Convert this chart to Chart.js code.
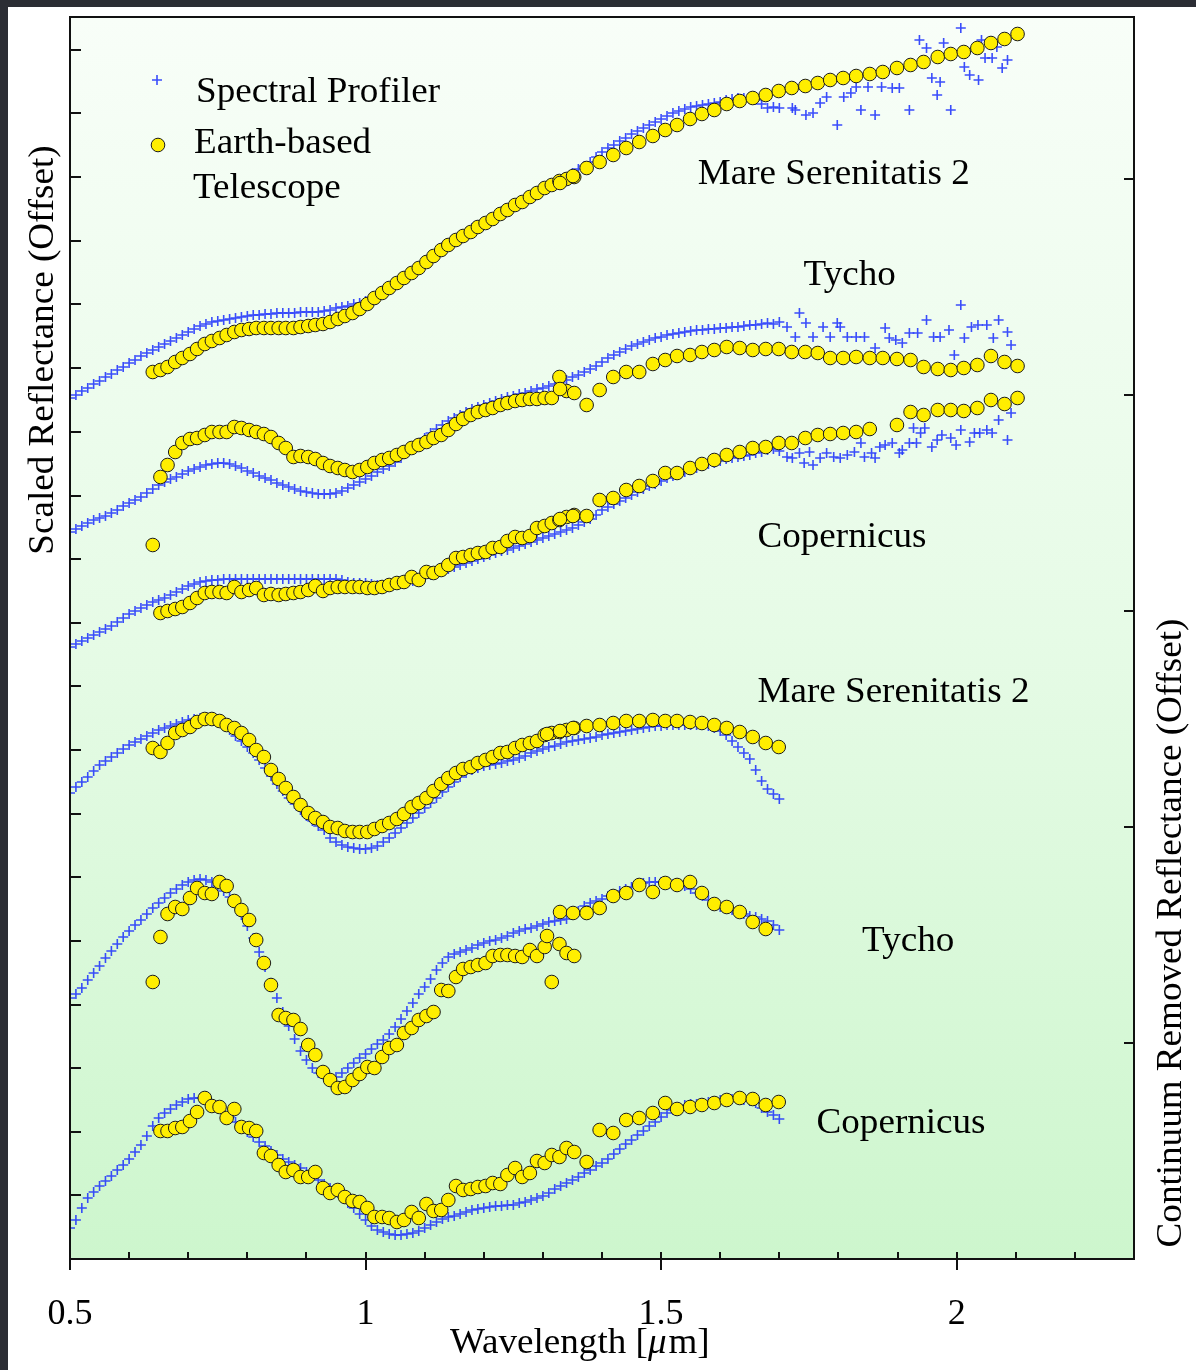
<!DOCTYPE html>
<html>
<head>
<meta charset="utf-8">
<title>Spectral Profiler vs Earth-based Telescope</title>
<script src="https://cdn.jsdelivr.net/npm/chart.js@4.4.1/dist/chart.umd.min.js"></script>
<style>
  html, body { margin: 0; padding: 0; width: 1196px; height: 1370px; overflow: hidden; background: #2b2d34; }
  #wrap { position: absolute; left: 8px; top: 7px; width: 1188px; height: 1363px; background: #ffffff; }
  canvas { display: block; }
</style>
</head>
<body>
<div id="wrap"><canvas id="spectra" width="1188" height="1363"></canvas></div>
<script>
// ---------------------------------------------------------------
// Wavelength sampling (micrometres)
// ---------------------------------------------------------------
const spBands = [
  0.50,0.51,0.52,0.53,0.54,0.55,0.56,0.57,0.58,0.59,
  0.60,0.61,0.62,0.63,0.64,0.65,0.66,0.67,0.68,0.69,
  0.70,0.71,0.72,0.73,0.74,0.75,0.76,0.77,0.78,0.79,
  0.80,0.81,0.82,0.83,0.84,0.85,0.86,0.87,0.88,0.89,
  0.90,0.91,0.92,0.93,0.94,0.95,0.96,0.97,0.98,0.99,
  1.00,1.01,1.02,1.03,1.04,1.05,1.06,1.07,1.08,1.09,
  1.10,1.11,1.12,1.13,1.14,1.15,1.16,1.17,1.18,1.19,
  1.20,1.21,1.22,1.23,1.24,1.25,1.26,1.27,1.28,1.29,
  1.30,1.31,1.32,1.33,1.34,1.35,1.36,1.37,1.38,1.39,
  1.40,1.41,1.42,1.43,1.44,1.45,1.46,1.47,1.48,1.49,
  1.50,1.51,1.52,1.53,1.54,1.55,1.56,1.57,1.58,1.59,
  1.60,1.61,1.62,1.63,1.64,1.65,1.66,1.67,1.68,1.69,
  1.70
];

const telVisBands = [
  0.640,0.653,0.665,0.678,0.690,0.703,0.715,0.728,0.740,0.753,
  0.765,0.778,0.790,0.803,0.815,0.828,0.840,0.853,0.865,0.878,
  0.890,0.903,0.915,0.928,0.940,0.953,0.965,0.978,0.990,1.003,
  1.015,1.028,1.040,1.053,1.065,1.078,1.090,1.103,1.115,1.128,
  1.140,1.153,1.165,1.178,1.190,1.203,1.215,1.228,1.240,1.253,
  1.265,1.278,1.290,1.303,1.315,1.328,1.340,1.353
];

const telNirBands = [
  1.307,1.329,1.351,1.374,1.396,1.419,1.441,1.463,1.486,1.507,
  1.527,1.549,1.569,1.590,1.611,1.633,1.655,1.677,1.699,1.721,
  1.744,1.765,1.786,1.808,1.830,1.853,1.875,1.899,1.922,1.944,
  1.968,1.990,2.012,2.035,2.058,2.081,2.103
];

// ---------------------------------------------------------------
// Spectral Profiler, scaled reflectance (offset)
// ---------------------------------------------------------------
const spMareScaled = [
  0.861,0.864,0.868,0.871,0.875,0.878,0.882,0.885,0.889,0.892,
  0.896,0.899,0.903,0.906,0.909,0.912,0.915,0.918,0.921,0.924,
  0.927,0.930,0.933,0.935,0.937,0.938,0.939,0.940,0.941,0.942,
  0.943,0.944,0.944,0.945,0.945,0.946,0.946,0.946,0.946,0.947,
  0.947,0.947,0.947,0.948,0.949,0.951,0.952,0.953,0.955,0.956,
  0.958,0.961,0.964,0.968,0.972,0.976,0.980,0.984,0.988,0.993,
  0.997,1.002,1.007,1.012,1.016,1.020,1.024,1.027,1.031,1.034,
  1.037,1.041,1.044,1.048,1.051,1.055,1.058,1.061,1.064,1.067,
  1.070,1.073,1.076,1.079,1.082,1.086,1.090,1.093,1.097,1.102,
  1.107,1.111,1.114,1.118,1.121,1.125,1.128,1.131,1.134,1.137,
  1.140,1.143,1.146,1.148,1.150,1.152,1.153,1.154,1.155,1.156,
  1.157,1.159,1.160,1.161,1.161,1.160,1.159,1.155,1.151,1.152,
  1.151
];
const spTychoScaled = [
  0.727,0.730,0.733,0.736,0.739,0.741,0.743,0.746,0.749,0.753,
  0.756,0.759,0.762,0.766,0.770,0.774,0.777,0.780,0.782,0.785,
  0.788,0.790,0.792,0.794,0.795,0.796,0.796,0.795,0.793,0.791,
  0.788,0.786,0.783,0.781,0.779,0.776,0.774,0.772,0.770,0.768,
  0.767,0.766,0.765,0.765,0.765,0.766,0.768,0.771,0.774,0.777,
  0.780,0.783,0.787,0.790,0.793,0.797,0.801,0.806,0.811,0.816,
  0.821,0.826,0.830,0.834,0.838,0.841,0.844,0.847,0.850,0.852,
  0.854,0.856,0.858,0.860,0.862,0.863,0.865,0.866,0.868,0.870,
  0.871,0.873,0.875,0.877,0.879,0.882,0.884,0.887,0.890,0.893,
  0.897,0.901,0.904,0.907,0.910,0.913,0.915,0.917,0.919,0.921,
  0.922,0.924,0.925,0.926,0.927,0.928,0.929,0.929,0.930,0.930,
  0.931,0.931,0.932,0.932,0.933,0.934,0.934,0.935,0.936,0.935,
  0.937
];
const spCopernicusScaled = [
  0.612,0.615,0.618,0.621,0.624,0.627,0.630,0.633,0.637,0.641,
  0.645,0.648,0.651,0.654,0.657,0.659,0.661,0.664,0.667,0.670,
  0.673,0.675,0.677,0.678,0.679,0.679,0.680,0.680,0.680,0.680,
  0.680,0.680,0.680,0.680,0.680,0.680,0.680,0.680,0.680,0.680,
  0.680,0.680,0.680,0.680,0.680,0.680,0.679,0.677,0.676,0.676,
  0.676,0.675,0.674,0.674,0.674,0.675,0.676,0.677,0.678,0.680,
  0.682,0.684,0.686,0.688,0.690,0.692,0.694,0.696,0.698,0.700,
  0.702,0.704,0.706,0.708,0.709,0.711,0.713,0.715,0.717,0.719,
  0.721,0.723,0.725,0.727,0.729,0.731,0.734,0.737,0.740,0.744,
  0.749,0.752,0.755,0.758,0.761,0.764,0.767,0.770,0.773,0.775,
  0.778,0.781,0.783,0.785,0.787,0.789,0.791,0.793,0.795,0.796,
  0.798,0.800,0.801,0.802,0.803,0.804,0.806,0.807,0.809,0.810,
  0.808
];

// Noisy long-wavelength Spectral Profiler bands: [wavelength, value]
const spTailMareScaled = [
  [1.722,1.151],[1.727,1.149],[1.745,1.144],[1.757,1.146],[1.769,1.156],[1.780,1.162],
  [1.798,1.134],[1.809,1.162],[1.821,1.166],[1.830,1.172],[1.838,1.149],[1.850,1.172],
  [1.862,1.144],[1.873,1.172],[1.891,1.171],[1.903,1.171],[1.920,1.149],[1.937,1.219],
  [1.949,1.211],[1.958,1.181],[1.967,1.164],[1.972,1.177],[1.978,1.216],[1.990,1.149],
  [2.007,1.231],[2.013,1.192],[2.022,1.184],[2.037,1.179],[2.042,1.219],[2.048,1.201],
  [2.060,1.201],[2.068,1.212],[2.077,1.191],[2.086,1.199]
];
const spTailTychoScaled = [
  [1.713,0.932],[1.727,0.922],[1.734,0.946],[1.745,0.936],[1.757,0.922],[1.774,0.932],
  [1.786,0.922],[1.798,0.936],[1.803,0.932],[1.815,0.922],[1.830,0.922],[1.844,0.922],
  [1.862,0.911],[1.879,0.931],[1.886,0.921],[1.897,0.919],[1.908,0.916],[1.920,0.926],
  [1.934,0.926],[1.949,0.939],[1.961,0.922],[1.972,0.922],[1.987,0.929],[1.996,0.904],
  [2.007,0.954],[2.013,0.921],[2.025,0.932],[2.036,0.934],[2.051,0.934],[2.062,0.921],
  [2.071,0.939],[2.086,0.927],[2.092,0.914]
];
const spTailCopernicusScaled = [
  [1.713,0.802],[1.722,0.801],[1.734,0.806],[1.742,0.796],[1.751,0.807],[1.757,0.794],
  [1.769,0.801],[1.780,0.806],[1.792,0.802],[1.803,0.801],[1.815,0.804],[1.827,0.807],
  [1.838,0.816],[1.844,0.802],[1.856,0.806],[1.862,0.801],[1.870,0.812],[1.879,0.814],
  [1.891,0.816],[1.903,0.806],[1.908,0.809],[1.920,0.816],[1.927,0.831],[1.932,0.816],
  [1.939,0.826],[1.946,0.831],[1.958,0.812],[1.967,0.819],[1.975,0.824],[1.990,0.821],
  [1.999,0.814],[2.007,0.829],[2.022,0.817],[2.030,0.826],[2.039,0.826],[2.051,0.829],
  [2.060,0.826],[2.071,0.839],[2.086,0.819],[2.092,0.846]
];

// ---------------------------------------------------------------
// Spectral Profiler, continuum removed reflectance (offset)
// ---------------------------------------------------------------
const spMareCR = [
  0.466,0.472,0.477,0.482,0.488,0.494,0.498,0.502,0.506,0.510,
  0.514,0.517,0.520,0.523,0.526,0.529,0.531,0.533,0.535,0.537,
  0.539,0.540,0.541,0.541,0.540,0.538,0.534,0.529,0.523,0.518,
  0.512,0.506,0.499,0.491,0.483,0.475,0.468,0.461,0.455,0.449,
  0.443,0.438,0.433,0.429,0.421,0.417,0.414,0.412,0.411,0.410,
  0.410,0.411,0.413,0.417,0.421,0.426,0.431,0.436,0.441,0.446,
  0.451,0.456,0.461,0.467,0.472,0.477,0.482,0.486,0.489,0.491,
  0.493,0.494,0.495,0.496,0.498,0.499,0.501,0.503,0.506,0.508,
  0.510,0.512,0.513,0.515,0.517,0.518,0.519,0.520,0.521,0.522,
  0.524,0.525,0.526,0.527,0.528,0.529,0.530,0.531,0.532,0.533,
  0.533,0.534,0.534,0.534,0.534,0.534,0.534,0.534,0.533,0.531,
  0.528,0.524,0.518,0.512,0.506,0.500,0.489,0.478,0.470,0.465,
  0.460
];
const spTychoCR = [
  0.261,0.265,0.271,0.279,0.286,0.293,0.301,0.308,0.315,0.322,
  0.328,0.334,0.339,0.345,0.351,0.356,0.361,0.366,0.370,0.374,
  0.377,0.379,0.380,0.379,0.377,0.373,0.368,0.362,0.354,0.344,
  0.333,0.321,0.307,0.292,0.276,0.261,0.247,0.233,0.220,0.208,
  0.199,0.191,0.186,0.182,0.181,0.182,0.186,0.191,0.196,0.201,
  0.205,0.210,0.215,0.219,0.225,0.232,0.240,0.248,0.256,0.265,
  0.272,0.280,0.289,0.296,0.302,0.305,0.307,0.309,0.311,0.314,
  0.316,0.318,0.319,0.321,0.323,0.326,0.328,0.330,0.331,0.333,
  0.335,0.337,0.338,0.339,0.340,0.344,0.348,0.353,0.356,0.358,
  0.360,0.363,0.365,0.368,0.370,0.372,0.374,0.376,0.377,0.377,
  0.377,0.376,0.375,0.374,0.373,0.370,0.366,0.363,0.359,0.355,
  0.352,0.350,0.349,0.347,0.345,0.343,0.342,0.340,0.338,0.334,
  0.329
];
const spCopernicusCR = [
  0.031,0.039,0.051,0.061,0.067,0.073,0.078,0.083,0.089,0.094,
  0.100,0.107,0.114,0.123,0.133,0.141,0.146,0.150,0.154,0.157,
  0.160,0.161,0.161,0.159,0.155,0.150,0.146,0.142,0.137,0.131,
  0.127,0.122,0.117,0.113,0.108,0.104,0.100,0.097,0.094,0.091,
  0.087,0.083,0.079,0.075,0.071,0.067,0.062,0.056,0.051,0.045,
  0.039,0.033,0.029,0.027,0.025,0.024,0.024,0.025,0.026,0.028,
  0.031,0.034,0.037,0.040,0.042,0.043,0.045,0.047,0.049,0.050,
  0.051,0.052,0.053,0.053,0.054,0.054,0.056,0.057,0.059,0.061,
  0.063,0.066,0.070,0.073,0.076,0.079,0.082,0.086,0.089,0.093,
  0.096,0.100,0.105,0.110,0.115,0.119,0.124,0.128,0.133,0.137,
  0.142,0.146,0.149,0.152,0.154,0.155,0.155,0.156,0.157,0.158,
  0.159,0.159,0.160,0.160,0.159,0.158,0.156,0.151,0.147,0.144,
  0.140
];

// ---------------------------------------------------------------
// Earth-based telescope, visible (telVisBands) and near-IR (telNirBands)
// ---------------------------------------------------------------
const telMareScaledVis = [
  0.887,0.889,0.892,0.897,0.901,0.905,0.910,0.915,0.918,0.921,
  0.924,0.927,0.929,0.930,0.931,0.931,0.931,0.931,0.931,0.931,
  0.932,0.933,0.934,0.935,0.937,0.940,0.943,0.946,0.950,0.955,
  0.961,0.966,0.971,0.976,0.981,0.986,0.991,0.997,1.003,1.009,
  1.014,1.019,1.023,1.027,1.032,1.036,1.040,1.045,1.049,1.054,
  1.057,1.062,1.066,1.071,1.074,1.078,1.080,1.082
];
const telMareScaledNir = [
  null,1.076,1.083,1.091,1.097,1.104,1.111,1.117,1.123,1.129,
  1.134,1.140,1.145,1.149,1.155,1.158,1.161,1.164,1.168,1.171,
  1.173,1.176,1.179,1.181,1.183,1.185,1.187,1.191,1.194,1.197,
  1.202,1.205,1.207,1.211,1.216,1.220,1.225
];
const telTychoScaledVis = [
  0.714,0.782,0.794,0.807,0.816,0.820,0.821,0.824,0.827,0.827,
  0.827,0.832,0.831,0.829,0.827,0.825,0.822,0.816,0.811,0.802,
  0.803,0.802,0.800,0.796,0.793,0.791,0.789,0.787,0.789,0.792,
  0.796,0.799,0.801,0.804,0.807,0.811,0.814,0.817,0.821,0.824,
  0.829,0.835,0.840,0.844,0.847,0.849,0.851,0.854,0.856,0.858,
  0.859,0.860,0.860,0.861,0.861,0.882,0.868,0.866
];
const telTychoScaledNir = [
  null,0.870,null,0.854,0.869,0.882,0.887,0.887,0.895,0.899,
  0.903,0.904,0.907,0.909,0.912,0.911,0.909,0.910,0.910,0.907,
  0.907,0.906,0.901,0.901,0.902,0.901,0.901,0.900,0.899,0.892,
  0.890,0.889,0.891,0.894,0.903,0.897,0.893
];
const telCopernicusScaledVis = [
  null,0.646,0.648,0.650,0.652,0.656,0.661,0.666,0.667,0.667,
  0.666,0.672,0.667,0.669,0.671,0.664,0.665,0.664,0.665,0.666,
  0.667,0.669,0.673,0.668,0.671,0.672,0.672,0.672,0.672,0.671,
  0.671,0.672,0.674,0.676,0.677,0.682,0.679,0.687,0.686,0.689,
  0.694,0.701,0.702,0.704,0.706,0.707,0.711,0.712,0.718,0.722,
  0.721,0.723,0.731,0.733,0.736,0.739,0.742,0.744
];
const telCopernicusScaledNir = [
  null,0.740,0.743,0.743,0.759,0.761,0.769,0.773,0.778,0.786,
  0.786,0.791,0.795,0.799,0.804,0.807,0.811,0.812,0.816,0.816,
  0.821,0.824,0.825,0.826,0.827,0.830,null,0.834,0.847,0.844,
  0.849,0.849,0.848,0.851,0.859,0.855,0.861
];
const telMareCRVis = [
  0.511,0.507,0.516,0.526,0.529,0.532,0.537,0.540,0.540,0.538,
  0.534,0.531,0.526,0.519,0.509,0.502,0.489,0.480,0.471,0.462,
  0.454,0.446,0.441,0.437,0.432,0.431,0.428,0.427,0.427,0.427,
  0.430,0.433,0.436,0.440,0.445,0.452,0.456,0.461,0.468,0.475,
  0.481,0.486,0.490,0.492,0.496,0.499,0.502,0.506,0.507,0.511,
  0.514,0.516,0.518,0.524,0.526,0.527,0.529,0.531
];
const telMareCRNir = [
  0.525,0.528,0.531,0.533,0.534,0.536,0.538,0.538,0.539,0.538,
  0.538,0.537,0.536,0.534,0.531,0.527,0.522,0.516,0.512,null,
  null,null,null,null,null,null,null,null,null,null,
  null,null,null,null,null,null,null
];
const telTychoCRVis = [
  0.277,0.322,0.345,0.352,0.350,0.361,0.371,0.366,0.365,0.377,
  0.373,0.358,0.349,0.339,0.319,0.296,0.274,0.244,0.241,0.239,
  0.230,0.214,0.204,0.187,0.179,0.171,0.172,0.179,0.185,0.192,
  0.191,0.202,0.211,0.214,0.226,0.231,0.239,0.243,0.247,0.269,
  0.268,0.282,0.290,0.292,0.294,0.296,0.303,0.304,0.304,0.303,
  0.302,0.309,0.303,0.312,0.277,0.315,0.306,0.303
];
const telTychoCRNir = [
  0.323,0.347,0.346,0.346,0.351,0.363,0.366,0.374,0.367,0.376,
  0.374,0.377,0.366,0.355,0.352,0.347,0.337,0.330,null,null,
  null,null,null,null,null,null,null,null,null,null,
  null,null,null,null,null,null,null
];
const telCopernicusCRVis = [
  null,0.128,0.128,0.131,0.132,0.138,0.147,0.161,0.153,0.152,
  0.141,0.150,0.132,0.131,0.128,0.106,0.103,0.094,0.087,0.089,
  0.082,0.082,0.087,0.071,0.066,0.069,0.062,0.058,0.057,0.051,
  0.042,0.042,0.041,0.037,0.039,0.047,0.041,0.055,0.048,0.049,
  0.059,0.073,0.069,0.070,0.072,0.073,0.076,0.075,0.084,0.091,
  0.082,0.086,0.098,0.096,0.104,0.102,0.111,0.107
];
const telCopernicusCRNir = [
  null,null,null,0.097,0.129,0.126,0.139,0.141,0.146,0.156,
  0.150,0.152,0.154,0.156,0.159,0.161,0.160,0.154,0.157,null,
  null,null,null,null,null,null,null,null,null,null,
  null,null,null,null,null,null,null
];

// ---------------------------------------------------------------
// Axis ticks
// ---------------------------------------------------------------
const xMajorTicks = [0.5, 1, 1.5, 2];
const xMinorTicks = [0.6,0.7,0.8,0.9,1.1,1.2,1.3,1.4,1.6,1.7,1.8,1.9,2.1,2.2];
const scaledTicks = [0.064,0.127,0.191,0.254,0.318,0.382,0.445,0.509,0.573,0.636,
                     0.700,0.763,0.827,0.891,0.955,1.018,1.082,1.146,1.209];
const crTicks = [0.216, 0.432, 0.648, 0.864, 1.080];

const spectrumNames = ['Mare Serenitatis 2', 'Tycho', 'Copernicus'];

// ---------------------------------------------------------------
// Styling and placement
// ---------------------------------------------------------------
const FONT = "'Liberation Serif', 'Times New Roman', 'DejaVu Serif', serif";
const TEXT_SIZE = 35;
const TEXT_STRETCH = 1.06;
const CROSS_COLOR = 'rgba(32, 52, 252, 0.88)';
const CROSS_WIDTH = 1.6;
const CIRCLE_FILL = '#ffee00';
const CIRCLE_EDGE = '#1c1c1c';
const CIRCLE_RADIUS = 6.8;

// label anchors: wavelength / axis value of the left end of the baseline
const curveLabels = [
  { text: spectrumNames[0], x: 1.562, y: 1.075, axis: 'yScaled' },
  { text: spectrumNames[1], x: 1.741, y: 0.974, axis: 'yScaled' },
  { text: spectrumNames[2], x: 1.663, y: 0.712, axis: 'yScaled' },
  { text: spectrumNames[0], x: 1.663, y: 0.557, axis: 'yCR' },
  { text: spectrumNames[1], x: 1.840, y: 0.308, axis: 'yCR' },
  { text: spectrumNames[2], x: 1.763, y: 0.126, axis: 'yCR' }
];

// ---------------------------------------------------------------
// Helpers
// ---------------------------------------------------------------
function pts(xs, ys) {
  const out = [];
  for (let i = 0; i < xs.length; i++) {
    if (ys[i] !== null && ys[i] !== undefined) out.push({ x: xs[i], y: ys[i] });
  }
  return out;
}
function pairs(list) { return list.map(p => ({ x: p[0], y: p[1] })); }

function setFont(ctx, size, italic) {
  ctx.font = (italic ? 'italic ' : '') + size + 'px ' + FONT;
}
function textW(ctx, str, size, italic) {
  ctx.save(); setFont(ctx, size, italic);
  const w = ctx.measureText(str).width * TEXT_STRETCH;
  ctx.restore();
  return w;
}
function drawText(ctx, str, x, y, opt) {
  opt = opt || {};
  ctx.save();
  ctx.translate(x, y);
  if (opt.rotate) ctx.rotate(opt.rotate);
  ctx.scale(TEXT_STRETCH, 1);
  setFont(ctx, opt.size || TEXT_SIZE, opt.italic);
  ctx.fillStyle = '#000';
  ctx.textAlign = opt.align || 'left';
  ctx.textBaseline = 'alphabetic';
  ctx.fillText(str, 0, 0);
  ctx.restore();
}
function drawCross(ctx, x, y, r) {
  ctx.save();
  ctx.strokeStyle = CROSS_COLOR; ctx.lineWidth = CROSS_WIDTH;
  ctx.beginPath();
  ctx.moveTo(x - r, y); ctx.lineTo(x + r, y);
  ctx.moveTo(x, y - r); ctx.lineTo(x, y + r);
  ctx.stroke();
  ctx.restore();
}
function drawDot(ctx, x, y, r) {
  ctx.save();
  ctx.fillStyle = CIRCLE_FILL; ctx.strokeStyle = CIRCLE_EDGE; ctx.lineWidth = 1;
  ctx.beginPath(); ctx.arc(x, y, r, 0, Math.PI * 2); ctx.fill(); ctx.stroke();
  ctx.restore();
}

// ---------------------------------------------------------------
// Datasets
// ---------------------------------------------------------------
const spectra = [
  { axis: 'yScaled', sp: spMareScaled,       tail: spTailMareScaled,       vis: telMareScaledVis,       nir: telMareScaledNir },
  { axis: 'yScaled', sp: spTychoScaled,      tail: spTailTychoScaled,      vis: telTychoScaledVis,      nir: telTychoScaledNir },
  { axis: 'yScaled', sp: spCopernicusScaled, tail: spTailCopernicusScaled, vis: telCopernicusScaledVis, nir: telCopernicusScaledNir },
  { axis: 'yCR',     sp: spMareCR,           tail: [],                     vis: telMareCRVis,           nir: telMareCRNir },
  { axis: 'yCR',     sp: spTychoCR,          tail: [],                     vis: telTychoCRVis,          nir: telTychoCRNir },
  { axis: 'yCR',     sp: spCopernicusCR,     tail: [],                     vis: telCopernicusCRVis,     nir: telCopernicusCRNir }
];

const datasets = [];
spectra.forEach((s, i) => {
  datasets.push({
    label: 'Earth-based Telescope ' + (i + 1),
    data: pts(telVisBands, s.vis).concat(pts(telNirBands, s.nir)),
    yAxisID: s.axis,
    pointStyle: 'circle',
    pointRadius: CIRCLE_RADIUS,
    backgroundColor: CIRCLE_FILL,
    borderColor: CIRCLE_EDGE,
    borderWidth: 1,
    order: 0
  });
  datasets.push({
    label: 'Spectral Profiler ' + (i + 1),
    data: pts(spBands, s.sp).concat(pairs(s.tail)),
    yAxisID: s.axis,
    pointStyle: 'cross',
    pointRadius: 5,
    borderColor: CROSS_COLOR,
    backgroundColor: CROSS_COLOR,
    borderWidth: CROSS_WIDTH,
    order: 1
  });
});

// ---------------------------------------------------------------
// Plot decoration: background, frame, tick marks, legend, labels, titles
// ---------------------------------------------------------------
const decor = {
  id: 'decor',
  beforeDraw(chart) {
    const { ctx, chartArea: a } = chart;
    ctx.save();
    ctx.fillStyle = '#ffffff';
    ctx.fillRect(0, 0, chart.width, chart.height);
    const g = ctx.createLinearGradient(0, a.top, 0, a.bottom);
    g.addColorStop(0, '#f8fef8');
    g.addColorStop(0.5, '#e6fbe6');
    g.addColorStop(1, '#cdf6cd');
    ctx.fillStyle = g;
    ctx.fillRect(a.left, a.top, a.right - a.left, a.bottom - a.top);
    ctx.restore();
  },
  afterDraw(chart) {
    const { ctx, chartArea: a, scales } = chart;
    const xs = scales.x, yl = scales.yScaled, yr = scales.yCR;

    // frame
    ctx.save();
    ctx.strokeStyle = '#111';
    ctx.lineWidth = 2;
    ctx.strokeRect(a.left, a.top, a.right - a.left, a.bottom - a.top);

    // tick marks
    ctx.beginPath();
    scaledTicks.forEach(v => { const y = Math.round(yl.getPixelForValue(v)); ctx.moveTo(a.left, y); ctx.lineTo(a.left + 11, y); });
    crTicks.forEach(v => { const y = Math.round(yr.getPixelForValue(v)); ctx.moveTo(a.right, y); ctx.lineTo(a.right - 10, y); });
    xMajorTicks.forEach(v => { const x = Math.round(xs.getPixelForValue(v)); ctx.moveTo(x, a.bottom - 7); ctx.lineTo(x, a.bottom + 11); });
    xMinorTicks.forEach(v => { const x = Math.round(xs.getPixelForValue(v)); ctx.moveTo(x, a.bottom - 7); ctx.lineTo(x, a.bottom); });
    ctx.stroke();
    ctx.restore();

    // legend
    drawCross(ctx, a.left + 87, a.top + 63, 5);
    drawText(ctx, 'Spectral Profiler', a.left + 126, a.top + 85);
    drawDot(ctx, a.left + 88, a.top + 128, CIRCLE_RADIUS);
    drawText(ctx, 'Earth-based', a.left + 124, a.top + 136);
    drawText(ctx, 'Telescope', a.left + 123, a.top + 181);

    // curve names
    curveLabels.forEach(l => {
      drawText(ctx, l.text, xs.getPixelForValue(l.x), scales[l.axis].getPixelForValue(l.y));
    });

    // axis titles
    drawText(ctx, 'Scaled Reflectance (Offset)', 45, 343, { rotate: -Math.PI / 2, align: 'center' });
    drawText(ctx, 'Continuum Removed Reflectance (Offset)', 1173, 926, { rotate: -Math.PI / 2, align: 'center' });

    const p1 = 'Wavelength [', p2 = '\u03bc', p3 = 'm]';
    let tx = 442; const ty = 1346;
    drawText(ctx, p1, tx, ty); tx += textW(ctx, p1, TEXT_SIZE, false);
    drawText(ctx, p2, tx, ty, { italic: true }); tx += textW(ctx, p2, TEXT_SIZE, true) + 2;
    drawText(ctx, p3, tx, ty);
  }
};

// ---------------------------------------------------------------
// Chart
// ---------------------------------------------------------------
new Chart(document.getElementById('spectra'), {
  type: 'scatter',
  data: { datasets },
  options: {
    responsive: false,
    maintainAspectRatio: false,
    devicePixelRatio: 1,
    animation: false,
    events: [],
    layout: { padding: { top: 10, left: 0, right: 0, bottom: 0 } },
    plugins: { legend: { display: false }, tooltip: { enabled: false } },
    scales: {
      x: {
        type: 'linear', position: 'bottom', min: 0.5, max: 2.3,
        afterBuildTicks: s => { s.ticks = xMajorTicks.map(v => ({ value: v })); },
        afterFit: s => { s.height = 111; },
        grid: { display: false, drawTicks: false },
        border: { display: false },
        ticks: {
          autoSkip: false, maxRotation: 0, minRotation: 0, padding: 34, color: '#000',
          font: { family: FONT, size: 36 },
          callback: v => String(v)
        }
      },
      yScaled: {
        type: 'linear', position: 'left', min: 0, max: 1.242,
        afterBuildTicks: s => { s.ticks = scaledTicks.map(v => ({ value: v })); },
        afterFit: s => { s.width = 62; },
        grid: { display: false, drawTicks: false },
        border: { display: false },
        ticks: { display: false }
      },
      yCR: {
        type: 'linear', position: 'right', min: 0, max: 1.242,
        afterBuildTicks: s => { s.ticks = crTicks.map(v => ({ value: v })); },
        afterFit: s => { s.width = 62; },
        grid: { display: false, drawTicks: false },
        border: { display: false },
        ticks: { display: false }
      }
    }
  },
  plugins: [decor]
});
</script>
</body>
</html>
